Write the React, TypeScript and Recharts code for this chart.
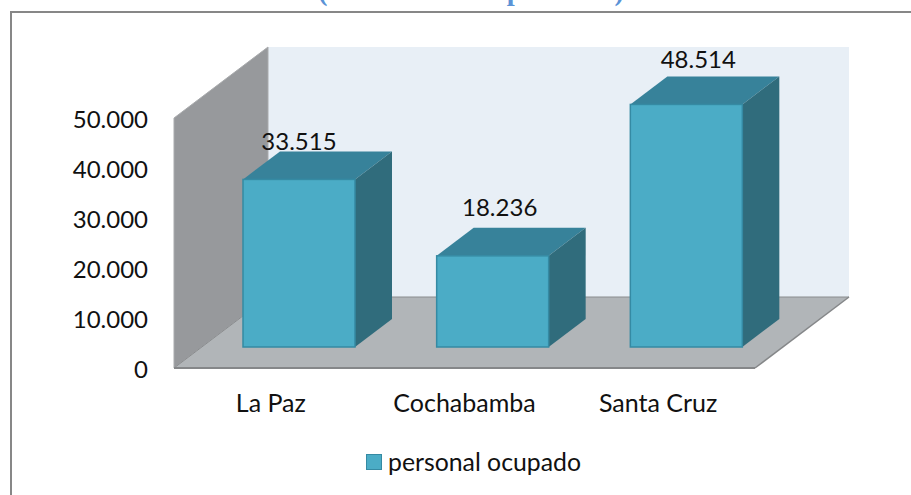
import { Bar, BarChart, LabelList, Legend, XAxis, YAxis, usePlotArea } from 'recharts'

const CATEGORIES = ['La Paz', 'Cochabamba', 'Santa Cruz']
const PERSONAL_OCUPADO = [33515, 18236, 48514]
const Y_TICKS = [0, 10000, 20000, 30000, 40000, 50000]
const SERIES_NAME = 'personal ocupado'
const TITLE = '(En número de personas)'

const FONT = 'Lato, Carlito, sans-serif'
const TEXT_COLOR = '#111111'
const FRONT_COLOR = '#4bacc6'
const EDGE_COLOR = '#358aa3'
const TOP_COLOR = '#37829a'
const SIDE_COLOR = '#306c7c'

// depth of the fake 3d box, and how far the bars sit inside it
const WALL_DX = 94
const WALL_DY = 71
const BAR_DX = 28
const BAR_DY = 21
const BAR_DEPTH_X = 37
const BAR_DEPTH_Y = 28

// the labels were moved by hand in the original
const LABEL_SHIFT = [
  { dx: 0, dy: -39 },
  { dx: 7, dy: -49 },
  { dx: 12, dy: -46 },
]

const chartData = CATEGORIES.map((name, i) => ({ name, personal: PERSONAL_OCUPADO[i] }))

const formatThousands = (value: number) => String(value).replace(/\B(?=(\d{3})+$)/g, '.')

function Walls() {
  const plot = usePlotArea()
  if (!plot) return null
  const left = plot.x
  const right = plot.x + plot.width
  const top = plot.y
  const bottom = plot.y + plot.height
  return (
    <g>
      <rect
        x={left + WALL_DX}
        y={top - WALL_DY}
        width={plot.width}
        height={plot.height}
        fill="#e8eff6"
      />
      <polygon
        points={`${left},${top} ${left + WALL_DX},${top - WALL_DY} ${left + WALL_DX},${bottom - WALL_DY} ${left},${bottom}`}
        fill="#97999c"
        stroke="#a9abad"
        strokeWidth={1}
      />
      <polygon
        points={`${left},${bottom} ${right},${bottom} ${right + WALL_DX},${bottom - WALL_DY} ${left + WALL_DX},${bottom - WALL_DY}`}
        fill="#b1b5b8"
      />
      <line x1={left} y1={bottom} x2={left + WALL_DX} y2={bottom - WALL_DY} stroke="#8a8c8e" />
      <line
        x1={left + WALL_DX}
        y1={bottom - WALL_DY}
        x2={right + WALL_DX}
        y2={bottom - WALL_DY}
        stroke="#8a8c8e"
      />
      <line x1={right} y1={bottom} x2={right + WALL_DX} y2={bottom - WALL_DY} stroke="#858789" strokeWidth={1.5} />
      <line x1={left} y1={bottom} x2={right} y2={bottom} stroke="#858789" strokeWidth={2} />
    </g>
  )
}

function Box(props: any) {
  const { x, y, width, height } = props
  const fx = x + BAR_DX
  const fy = y - BAR_DY
  const rx = fx + width
  const by = fy + height
  return (
    <g>
      <polygon
        points={`${fx},${fy} ${fx + BAR_DEPTH_X},${fy - BAR_DEPTH_Y} ${rx + BAR_DEPTH_X},${fy - BAR_DEPTH_Y} ${rx},${fy}`}
        fill={TOP_COLOR}
      />
      <polygon
        points={`${rx},${fy} ${rx + BAR_DEPTH_X},${fy - BAR_DEPTH_Y} ${rx + BAR_DEPTH_X},${by - BAR_DEPTH_Y} ${rx},${by}`}
        fill={SIDE_COLOR}
      />
      <rect x={fx} y={fy} width={width} height={height} fill={FRONT_COLOR} stroke={EDGE_COLOR} strokeWidth={1.5} />
    </g>
  )
}

function BarValue(props: any) {
  const { x, y, width, value, index } = props
  const shift = LABEL_SHIFT[index]
  return (
    <text
      x={x + BAR_DX + width / 2 + shift.dx}
      y={y - BAR_DY + shift.dy}
      textAnchor="middle"
      dominantBaseline="central"
      fontFamily={FONT}
      fontSize={24}
      fill={TEXT_COLOR}
    >
      {formatThousands(value)}
    </text>
  )
}

function LegendRow() {
  return (
    <div
      style={{
        display: 'flex',
        alignItems: 'center',
        fontFamily: FONT,
        fontSize: 24.8,
        lineHeight: '30px',
        color: TEXT_COLOR,
      }}
    >
      <span
        style={{
          display: 'inline-block',
          boxSizing: 'border-box',
          width: 16,
          height: 16,
          marginRight: 6,
          background: FRONT_COLOR,
          border: `1.5px solid ${EDGE_COLOR}`,
        }}
      />
      {SERIES_NAME}
    </div>
  )
}

export default function App() {
  return (
    <div style={{ position: 'absolute', left: 0, top: 0, width: 911, height: 495, overflow: 'hidden', background: '#fff' }}>
      <div
        style={{
          position: 'absolute',
          left: 10,
          top: 11,
          width: 901,
          height: 484,
          borderLeft: '2px solid #878787',
          borderTop: '2px solid #878787',
          boxSizing: 'border-box',
        }}
      />
      <div
        style={{
          position: 'absolute',
          left: 0,
          width: 942,
          top: -24,
          textAlign: 'center',
          fontFamily: '"Liberation Serif", serif',
          fontWeight: 'bold',
          fontSize: 28.5,
          lineHeight: '30px',
          color: '#5b93d6',
        }}
      >
        {TITLE}
      </div>
      <div style={{ position: 'absolute', left: 0, top: 0 }}>
        <BarChart
          width={911}
          height={495}
          data={chartData}
          margin={{ top: 118, right: 156, bottom: 32, left: 0 }}
        >
          <Walls />
          <XAxis
            dataKey="name"
            axisLine={false}
            tickLine={false}
            height={60}
            tickMargin={20}
            interval={0}
            tick={{ fontFamily: FONT, fontSize: 25, fill: TEXT_COLOR }}
          />
          <YAxis
            width={174}
            domain={[0, 50000]}
            ticks={Y_TICKS}
            axisLine={false}
            tickLine={false}
            tickMargin={20}
            tickFormatter={formatThousands}
            tick={{ fontFamily: FONT, fontSize: 24, fill: TEXT_COLOR, dy: 1 }}
          />
          <Legend
            content={<LegendRow />}
            wrapperStyle={{ left: 366, bottom: 13, width: 230, height: 35 }}
          />
          <Bar
            dataKey="personal"
            name={SERIES_NAME}
            barSize={112}
            shape={<Box />}
            isAnimationActive={false}
          >
            <LabelList dataKey="personal" content={<BarValue />} />
          </Bar>
        </BarChart>
      </div>
    </div>
  )
}
